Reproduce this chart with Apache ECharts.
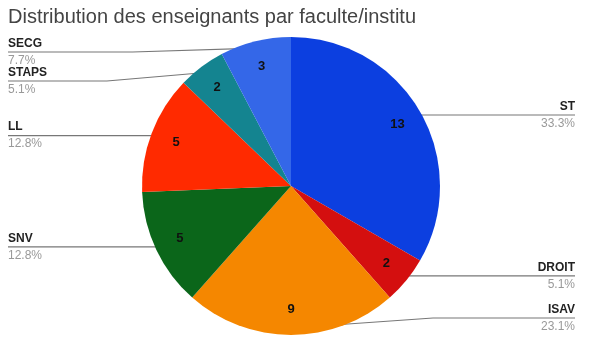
<!DOCTYPE html>
<html><head><meta charset="utf-8">
<script src="https://cdn.jsdelivr.net/npm/echarts@6/dist/echarts.min.js"></script>
<style>html,body{margin:0;padding:0;background:#fff}#c{width:599px;height:343px}</style>
</head><body><div id="c"></div>
<script>
const titleText = 'Distribution des enseignants par faculte/institu';
const categories = ['ST', 'DROIT', 'ISAV', 'SNV', 'LL', 'STAPS', 'SECG'];
const values = [13, 2, 9, 5, 5, 2, 3];
const colors = ['#0c3fe0', '#d40f0f', '#f58700', '#0b661a', '#ff2a00', '#148490', '#3467e8'];

const total = values.reduce((a, b) => a + b, 0);
const chart = echarts.init(document.getElementById('c'), null, {renderer: 'canvas'});

const BOX = {left: 8, top: 36, width: 567, height: 307};
const CX = 291, CY = 186, R = 149, DOT_R = 142;

// label-line lengths that differ from the default (labels nudged away from the top/bottom edges)
const lineLengthOverride = {ISAV: -17, SECG: -11};

const data = categories.map((n, i) => {
  const item = {name: n, value: values[i], itemStyle: {color: colors[i]}};
  if (lineLengthOverride[n] !== undefined) item.labelLine = {length: lineLengthOverride[n]};
  return item;
});

chart.setOption({
  animation: false,
  backgroundColor: '#fff',
  textStyle: {fontFamily: 'Liberation Sans, Arial, sans-serif'},
  title: {
    text: titleText, left: 8, top: 7, padding: 0,
    textStyle: {fontSize: 20, fontWeight: 'normal', color: '#444'}
  },
  series: [
    {
      type: 'pie',
      left: BOX.left, top: BOX.top, width: BOX.width, height: BOX.height,
      center: [CX - BOX.left, CY - BOX.top],
      radius: [0, R],
      startAngle: 90,
      clockwise: true,
      avoidLabelOverlap: true,
      data: data,
      itemStyle: {borderWidth: 0},
      emphasis: {disabled: true},
      label: {
        show: true,
        position: 'outside',
        alignTo: 'edge',
        edgeDistance: 0,
        minMargin: 0,
        formatter: function (p) {
          return '{n|' + p.name + '}\n{p|' + (p.value / total * 100).toFixed(1) + '%}';
        },
        rich: {
          n: {fontSize: 12, fontWeight: 'bold', color: '#222', lineHeight: 17},
          p: {fontSize: 12, color: '#999', lineHeight: 17}
        }
      },
      labelLine: {
        show: true, length: -(R - DOT_R), length2: 10, smooth: false,
        lineStyle: {color: '#777', width: 1.2}
      },
      labelLayout: function (params) {
        const pts = params.labelLinePoints;
        if (!pts) return {};
        const rect = params.labelRect;
        const isLeft = rect.x + rect.width / 2 < CX;
        const dx = pts[0][0] - CX, dy = pts[0][1] - CY;
        const len = Math.sqrt(dx * dx + dy * dy) || 1;
        const dot = [CX + dx / len * DOT_R, CY + dy / len * DOT_R];
        const ly = rect.y + rect.height / 2;
        const endX = isLeft ? rect.x : rect.x + rect.width;
        const bendX = dot[0] + (endX - dot[0]) * 0.5;
        return {labelLinePoints: [dot, [bendX, ly], [endX, ly]]};
      }
    },
    {
      type: 'pie',
      silent: true,
      left: BOX.left, top: BOX.top, width: BOX.width, height: BOX.height,
      center: [CX - BOX.left, CY - BOX.top],
      radius: [91, R],
      startAngle: 90,
      clockwise: true,
      data: categories.map((n, i) => ({name: n, value: values[i]})),
      itemStyle: {color: 'rgba(0,0,0,0)', borderWidth: 0},
      emphasis: {disabled: true},
      label: {
        show: true, position: 'inside', formatter: '{c}',
        fontSize: 13, fontWeight: 'bold', color: '#111'
      },
      labelLine: {show: false}
    }
  ]
});
</script>
</body></html>
